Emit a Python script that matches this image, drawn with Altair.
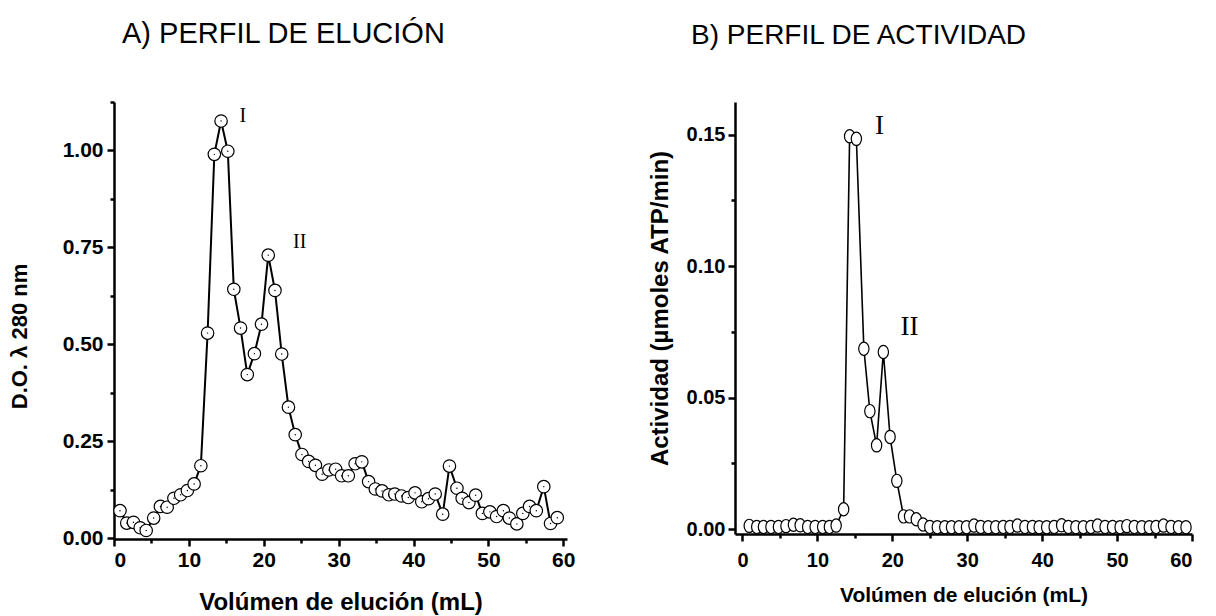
import altair as alt
import pandas as pd

# ---------------- Panel A: elution profile ----------------
a_vol = [0.8, 1.7, 2.6, 3.5, 4.3, 5.3, 6.2, 7.1, 8.0, 8.9, 9.8, 10.7, 11.6, 12.5, 13.4,
         14.3, 15.2, 16.0, 16.9, 17.8, 18.75, 19.7, 20.6, 21.5, 22.4, 23.3, 24.2, 25.1,
         26.0, 26.9, 27.8, 28.7, 29.6, 30.4, 31.3, 32.2, 33.1, 34.0, 34.9, 35.8, 36.7,
         37.5, 38.4, 39.3, 40.2, 41.1, 42.0, 42.9, 43.9, 44.8, 45.8, 46.5, 47.4, 48.3,
         49.2, 50.2, 51.1, 52.0, 52.8, 53.8, 54.6, 55.5, 56.4, 57.4, 58.3, 59.2]
a_od = [0.071, 0.039, 0.041, 0.027, 0.020, 0.052, 0.082, 0.080, 0.103, 0.112, 0.123,
        0.140, 0.187, 0.529, 0.990, 1.076, 0.998, 0.642, 0.542, 0.422, 0.476, 0.552,
        0.730, 0.639, 0.475, 0.338, 0.267, 0.216, 0.198, 0.188, 0.165, 0.176, 0.178,
        0.161, 0.161, 0.192, 0.197, 0.146, 0.127, 0.122, 0.112, 0.114, 0.109, 0.105,
        0.117, 0.094, 0.102, 0.114, 0.062, 0.186, 0.129, 0.103, 0.092, 0.111, 0.064,
        0.068, 0.056, 0.071, 0.052, 0.037, 0.064, 0.082, 0.071, 0.133, 0.038, 0.053]
a_peak_text = ["I", "II"]
a_peak_x = [17.2, 24.8]
a_peak_y = [1.09, 0.763]

a_x_major = [0, 10, 20, 30, 40, 50, 60]
a_x_minor = [5, 15, 25, 35, 45, 55]
a_y_major = [0.0, 0.25, 0.5, 0.75, 1.0]
a_y_minor = [0.125, 0.375, 0.625, 0.875, 1.125]

# ---------------- Panel B: activity profile ----------------
b_vol = [0.9, 1.9, 2.8, 3.8, 4.8, 5.8, 6.8, 7.7, 8.7, 9.7, 10.7, 11.6, 12.5, 13.5, 14.3,
         15.2, 16.2, 17.0, 17.9, 18.8, 19.7, 20.6, 21.5, 22.3, 23.2, 24.1,
         25.0, 26.0, 27.0, 27.9, 28.9, 29.9, 30.9, 31.8, 32.8, 33.8, 34.8, 35.7, 36.7,
         37.7, 38.7, 39.6, 40.6, 41.6, 42.6, 43.5, 44.5, 45.5, 46.5, 47.4, 48.4, 49.4,
         50.4, 51.3, 52.3, 53.3, 54.3, 55.2, 56.2, 57.2, 58.2, 59.2]
b_act = [0.0013, 0.0009, 0.0009, 0.0009, 0.0009, 0.0012, 0.0017, 0.0015, 0.0009, 0.0009,
         0.0009, 0.0009, 0.0014, 0.0076, 0.1494, 0.1484, 0.0686, 0.0449, 0.0319, 0.0674,
         0.0351, 0.0184, 0.0049, 0.0049, 0.0038, 0.0018,
         0.0009, 0.0008, 0.0008, 0.0008, 0.0008, 0.0008, 0.0014, 0.0009, 0.0008, 0.0008,
         0.0009, 0.0009, 0.0014, 0.0009, 0.0009, 0.0008, 0.0008, 0.0009, 0.0015, 0.0009,
         0.0008, 0.0008, 0.0009, 0.0014, 0.0009, 0.0009, 0.0008, 0.0012, 0.0009, 0.0008,
         0.0008, 0.0009, 0.0014, 0.0009, 0.0008, 0.0008]
b_peak_text = ["I", "II"]
b_peak_x = [18.3, 22.3]
b_peak_y = [0.1532, 0.0769]

b_x_major = [0, 10, 20, 30, 40, 50, 60]
b_x_minor = [5, 15, 25, 35, 45, 55]
b_y_major = [0.0, 0.05, 0.10, 0.15]
b_y_minor = [0.025, 0.075, 0.125]

SANS = "Liberation Sans"
SERIF = "Liberation Serif"

dfa = pd.DataFrame({"vol": a_vol, "od": a_od})
dfa_lab = pd.DataFrame({"t": a_peak_text, "x": a_peak_x, "y": a_peak_y})
dfb = pd.DataFrame({"vol": b_vol, "act": b_act})
dfb_lab = pd.DataFrame({"t": b_peak_text, "x": b_peak_x, "y": b_peak_y})

# ---------- Panel A ----------
ax_scale = alt.Scale(domain=[0, 60.5], nice=False, zero=False)
ay_scale = alt.Scale(domain=[-0.002, 1.125], nice=False, zero=False)

a_line = alt.Chart(dfa).mark_line(color="black", strokeWidth=2).encode(
    x=alt.X("vol:Q", scale=ax_scale,
            axis=alt.Axis(values=a_x_minor, labels=False, title="", domain=False,
                          tickSize=4, orient="bottom")),
    y=alt.Y("od:Q", scale=ay_scale,
            axis=alt.Axis(values=a_y_minor, labels=False, title="", domain=False,
                          tickSize=4, orient="left")),
)
a_pts = alt.Chart(dfa).mark_point(shape="circle", size=155, filled=True, fill="white",
                                  stroke="black", strokeWidth=1.2, opacity=1).encode(
    x=alt.X("vol:Q", scale=ax_scale,
            axis=alt.Axis(values=a_x_major, format="d", title="Volúmen de elución (mL)",
                          tickSize=7, labelPadding=3, titlePadding=20, orient="bottom",
                          labelFont=SANS, labelFontSize=21, labelFontWeight="bold",
                          titleFont=SANS, titleFontSize=24, titleFontWeight="bold")),
    y=alt.Y("od:Q", scale=ay_scale,
            axis=alt.Axis(values=a_y_major, format=".2f", title="D.O. λ 280 nm",
                          tickSize=7, labelPadding=4, titlePadding=31, orient="left",
                          titleY=234,
                          labelFont=SANS, labelFontSize=21, labelFontWeight="bold",
                          titleFont=SANS, titleFontSize=22, titleFontWeight="bold")),
)
a_dots = alt.Chart(dfa).mark_circle(size=2, color="black", opacity=1).encode(
    x=alt.X("vol:Q", scale=ax_scale, axis=None),
    y=alt.Y("od:Q", scale=ay_scale, axis=None))
a_txt = alt.Chart(dfa_lab).mark_text(font=SERIF, fontSize=20, color="black").encode(
    x=alt.X("x:Q", scale=ax_scale, axis=None),
    y=alt.Y("y:Q", scale=ay_scale, axis=None), text="t:N")

panel_a = alt.layer(a_line, a_pts, a_dots, a_txt).resolve_axis(
    x="independent", y="independent"
).properties(
    width=453, height=437,
    title=alt.TitleParams("A) PERFIL DE ELUCIÓN", anchor="start", frame="group", dx=8,
                          font=SANS, fontSize=29, fontWeight="normal", color="black",
                          offset=52),
)

# ---------- Panel B ----------
bx_scale = alt.Scale(domain=[-1, 60], nice=False, zero=False)
by_scale = alt.Scale(domain=[-0.0018, 0.1624], nice=False, zero=False)

ELLIPSE = "M0,-1 A0.78,1 0 1,1 0,1 A0.78,1 0 1,1 0,-1 Z"

b_line = alt.Chart(dfb).mark_line(color="black", strokeWidth=1.6).encode(
    x=alt.X("vol:Q", scale=bx_scale,
            axis=alt.Axis(values=b_x_minor, labels=False, title="", domain=False,
                          tickSize=4, orient="bottom")),
    y=alt.Y("act:Q", scale=by_scale,
            axis=alt.Axis(values=b_y_minor, labels=False, title="", domain=False,
                          tickSize=4, orient="left")),
)
b_pts = alt.Chart(dfb).mark_point(shape=ELLIPSE, size=175, filled=True, fill="white",
                                  stroke="black", strokeWidth=1.2, opacity=1).encode(
    x=alt.X("vol:Q", scale=bx_scale,
            axis=alt.Axis(values=b_x_major, format="d", title="Volúmen de elución (mL)",
                          tickSize=7, labelPadding=9, titlePadding=14, orient="bottom",
                          labelFont=SANS, labelFontSize=20, labelFontWeight="bold",
                          titleFont=SANS, titleFontSize=21, titleFontWeight="bold")),
    y=alt.Y("act:Q", scale=by_scale,
            axis=alt.Axis(values=b_y_major, format=".2f",
                          title="Actividad (µmoles ATP/min)",
                          tickSize=7, labelPadding=3, titlePadding=14, orient="left",
                          titleY=206,
                          labelFont=SANS, labelFontSize=20, labelFontWeight="bold",
                          titleFont=SANS, titleFontSize=24, titleFontWeight="bold")),
)
b_txt = alt.Chart(dfb_lab).mark_text(font=SERIF, fontSize=27, color="black").encode(
    x=alt.X("x:Q", scale=bx_scale, axis=None),
    y=alt.Y("y:Q", scale=by_scale, axis=None), text="t:N")

panel_b = alt.layer(b_line, b_pts, b_txt).resolve_axis(
    x="independent", y="independent"
).properties(
    width=457, height=432,
    title=alt.TitleParams("B) PERFIL DE ACTIVIDAD", anchor="start", frame="group", dx=-44,
                          font=SANS, fontSize=28, fontWeight="normal", color="black",
                          offset=52),
)

chart = alt.hconcat(panel_a, panel_b, spacing=73).properties(
    padding={"left": 8, "top": 19, "right": 5, "bottom": 5},
    background="white",
).configure_axis(
    grid=False, domainColor="black", domainWidth=2.5, tickColor="black", tickWidth=2.5,
    labelColor="black", titleColor="black",
).configure_view(stroke=None)

chart.save("out.html", embed_options={"renderer": "svg", "actions": False})
